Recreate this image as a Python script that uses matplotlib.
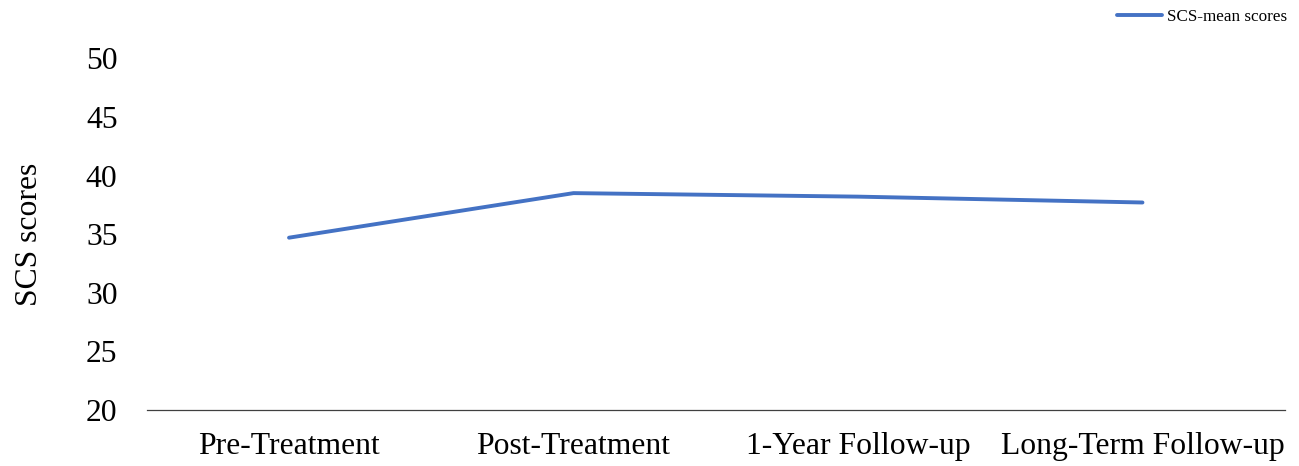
import matplotlib.pyplot as plt

plt.rcParams['font.family'] = ['Liberation Serif', 'DejaVu Serif']

stages = ['Pre-Treatment', 'Post-Treatment', '1-Year Follow-up', 'Long-Term Follow-up']
scs_mean = [34.7, 38.5, 38.2, 37.7]
y_ticks = [20, 25, 30, 35, 40, 45, 50]

fig = plt.figure(figsize=(12.99, 4.66), dpi=100)
ax = fig.add_axes([0.113, 0.12, 0.876, 0.755])

ax.plot(range(len(stages)), scs_mean, color='#4472C4', linewidth=2.8,
        solid_capstyle='round', label='SCS-mean scores')

ax.set_xlim(-0.5, len(stages) - 0.5)
ax.set_ylim(20, 50)
ax.set_xticks(range(len(stages)))
ax.set_xticklabels(stages, fontsize=22.8)
ax.set_yticks(y_ticks)
ax.set_yticklabels([str(t) for t in y_ticks], fontsize=22.8)
ax.tick_params(axis='x', length=0, pad=16)
ax.tick_params(axis='y', length=0, pad=21)

for s in ['top', 'right', 'left']:
    ax.spines[s].set_visible(False)
ax.spines['bottom'].set_color('#404040')
ax.spines['bottom'].set_linewidth(0.9)

ax.set_ylabel('SCS scores', fontsize=22.8, labelpad=30)

ax.legend(loc='center right', bbox_to_anchor=(1.008, 1.116), frameon=False,
          fontsize=12.3, handlelength=2.6, handletextpad=0.3, borderaxespad=0)

fig.savefig('out.png', dpi=100)
